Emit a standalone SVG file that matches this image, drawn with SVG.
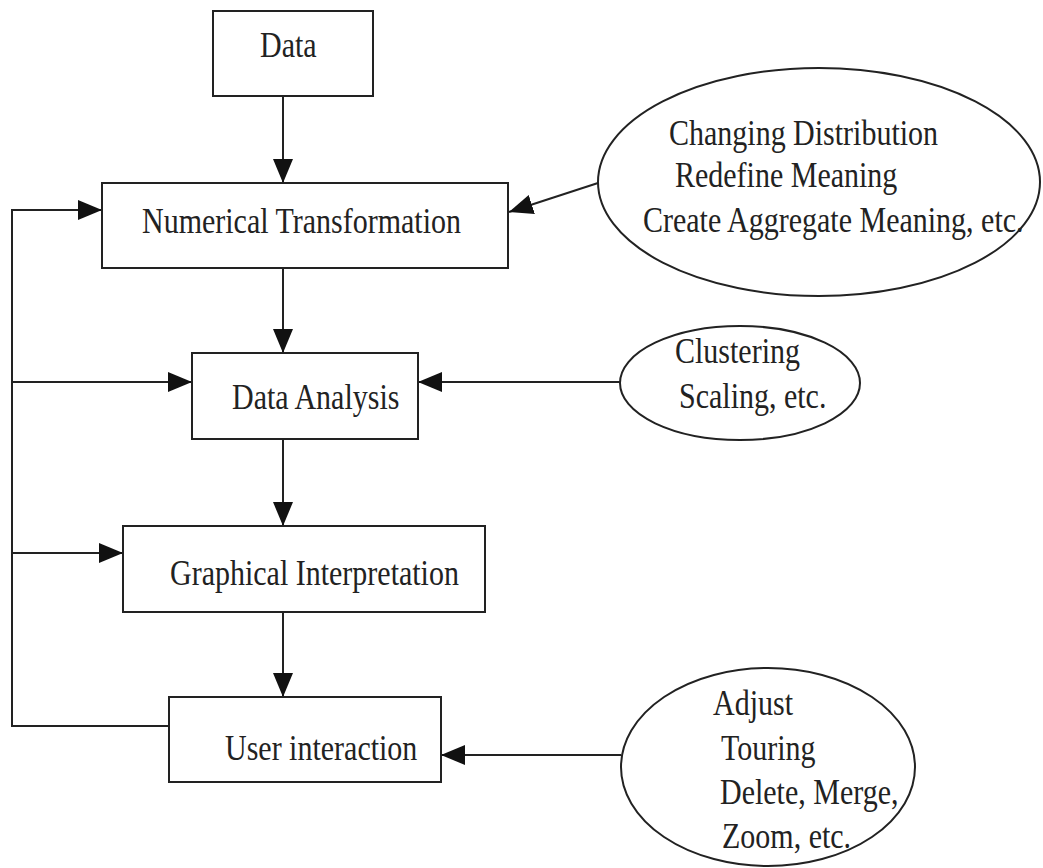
<svg xmlns="http://www.w3.org/2000/svg" width="1043" height="868" viewBox="0 0 1043 868">
<style>
.box{fill:#fff;stroke:#222;stroke-width:2}
.ell{fill:#fff;stroke:#222;stroke-width:2}
.lbl{font-family:"Liberation Serif","Times New Roman",serif;font-size:30px;fill:#222}
.con{fill:none;stroke:#222;stroke-width:2}
</style>
<defs>
<marker id="ah" markerUnits="userSpaceOnUse" markerWidth="24" markerHeight="20" refX="24" refY="10" orient="auto">
<path d="M0,0 L24,10 L0,20 z" fill="#111"/>
</marker>
</defs>
<rect width="1043" height="868" fill="#fff"/>
<g id="connectors">
<path class="con" d="M283,96 V183" marker-end="url(#ah)"/>
<path class="con" d="M283,268 V353" marker-end="url(#ah)"/>
<path class="con" d="M283,439 V526" marker-end="url(#ah)"/>
<path class="con" d="M283,612 V697" marker-end="url(#ah)"/>
<path class="con" d="M169,726 H12 V210 H102" marker-end="url(#ah)"/>
<path class="con" d="M12,382 H192" marker-end="url(#ah)"/>
<path class="con" d="M12,553 H123" marker-end="url(#ah)"/>
<path class="con" d="M598,183 L509,212" marker-end="url(#ah)"/>
<path class="con" d="M620,382 H418" marker-end="url(#ah)"/>
<path class="con" d="M621,755 H441" marker-end="url(#ah)"/>
</g>
<g id="data">
<rect class="box" x="213" y="11" width="160" height="85"/>
<text class="lbl" transform="translate(260,57) scale(1,1.2)">Data</text>
</g>
<g id="numerical-transformation">
<rect class="box" x="102" y="183" width="406" height="85"/>
<text class="lbl" transform="translate(142,233) scale(1,1.2)">Numerical Transformation</text>
</g>
<g id="data-analysis">
<rect class="box" x="192" y="353" width="226" height="86"/>
<text class="lbl" transform="translate(232,409) scale(1,1.2)">Data Analysis</text>
</g>
<g id="graphical-interpretation">
<rect class="box" x="123" y="526" width="362" height="86"/>
<text class="lbl" transform="translate(170,585) scale(1,1.2)">Graphical Interpretation</text>
</g>
<g id="user-interaction">
<rect class="box" x="169" y="697" width="272" height="85"/>
<text class="lbl" transform="translate(225,760) scale(1,1.2)">User interaction</text>
</g>
<g id="transform-options">
<ellipse class="ell" cx="819" cy="182" rx="221" ry="114"/>
<text class="lbl" transform="translate(669,145) scale(1,1.2)">Changing Distribution</text>
<text class="lbl" transform="translate(675,187) scale(1,1.2)">Redefine Meaning</text>
<text class="lbl" transform="translate(643,232) scale(1,1.2)">Create Aggregate Meaning, etc.</text>
</g>
<g id="analysis-options">
<ellipse class="ell" cx="740" cy="383" rx="120" ry="57"/>
<text class="lbl" transform="translate(675,363) scale(1,1.2)">Clustering</text>
<text class="lbl" transform="translate(679,408) scale(1,1.2)">Scaling, etc.</text>
</g>
<g id="interaction-options">
<ellipse class="ell" cx="768" cy="767" rx="147" ry="99"/>
<text class="lbl" transform="translate(713,715) scale(1,1.2)">Adjust</text>
<text class="lbl" transform="translate(721,760) scale(1,1.2)">Touring</text>
<text class="lbl" transform="translate(720,804) scale(1,1.2)">Delete, Merge,</text>
<text class="lbl" transform="translate(722,848) scale(1,1.2)">Zoom, etc.</text>
</g>
</svg>
